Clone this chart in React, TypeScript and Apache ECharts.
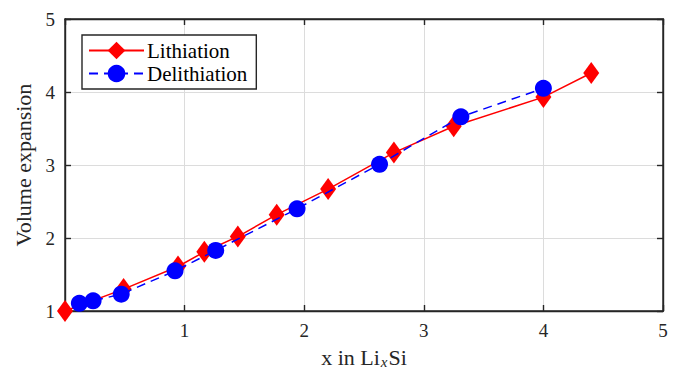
import React, { useEffect, useRef } from "react";
import * as echarts from "echarts";

// Volume expansion of Li_xSi during lithiation and delithiation
const lithX = [0, 0.49, 0.945, 1.165, 1.445, 1.77, 2.2, 2.75, 3.25, 4.0, 4.4];
const lithY = [1.0, 1.3, 1.61, 1.81, 2.02, 2.32, 2.67, 3.17, 3.53, 3.93, 4.26];
const delithX = [0.12, 0.235, 0.47, 0.92, 1.26, 1.94, 2.63, 3.31, 4.0];
const delithY = [1.105, 1.14, 1.23, 1.55, 1.83, 2.4, 3.01, 3.66, 4.05];
const seriesNames = ["Lithiation", "Delithiation"];

const FONT = "'Liberation Serif', 'DejaVu Serif', serif";
const AXIS_COLOR = "#262626";
const TEXT_COLOR = "#262626";

const pairs = (xs: number[], ys: number[]) => xs.map((x, i) => [x, ys[i]]);

export default function App() {
  const ref = useRef<HTMLDivElement>(null);

  useEffect(() => {
    if (!ref.current) return;
    document.body.style.margin = "0";
    const chart = echarts.init(ref.current, null, { renderer: "svg" });
    const axisCommon = {
      type: "value" as const,
      axisLine: { show: true, onZero: false, lineStyle: { color: AXIS_COLOR, width: 1.4 } },
      axisTick: { show: true, inside: true, length: 6, lineStyle: { color: AXIS_COLOR, width: 1.4 } },
    };
    chart.setOption({
      animation: false,
      backgroundColor: "#ffffff",
      textStyle: { fontFamily: FONT },
      grid: {
        left: 65,
        right: 17,
        top: 19,
        bottom: 64,
        show: true,
        borderColor: AXIS_COLOR,
        borderWidth: 1.4,
        backgroundColor: "transparent",
      },
      legend: {
        data: seriesNames,
        orient: "vertical",
        left: 82,
        top: 35,
        padding: [5, 9, 5, 6],
        itemGap: 2,
        itemWidth: 55,
        itemHeight: 22,
        backgroundColor: "#ffffff",
        borderColor: AXIS_COLOR,
        borderWidth: 1.4,
        borderRadius: 0,
        textStyle: { fontFamily: FONT, fontSize: 21, color: "#000", padding: [0, 0, 0, -2] },
      },
      xAxis: [
        {
          ...axisCommon,
          min: 0,
          max: 5,
          interval: 1,
          position: "bottom",
          name: "x in Li{sub|x}Si",
          nameLocation: "middle",
          nameGap: 34,
          nameTextStyle: {
            fontFamily: FONT,
            fontSize: 22,
            color: TEXT_COLOR,
            rich: {
              sub: {
                fontFamily: FONT,
                fontStyle: "italic",
                fontSize: 15,
                verticalAlign: "bottom",
                padding: [9, 1, 0, 1],
                color: TEXT_COLOR,
              },
            },
          },
          axisLabel: {
            fontFamily: FONT,
            fontSize: 19,
            color: TEXT_COLOR,
            margin: 10,
            showMinLabel: false,
          },
          splitLine: { show: true, lineStyle: { color: "#dcdcdc", width: 1 } },
        },
        {
          ...axisCommon,
          min: 0,
          max: 5,
          interval: 1,
          position: "top",
          axisLabel: { show: false },
          splitLine: { show: false },
        },
      ],
      yAxis: [
        {
          ...axisCommon,
          min: 1,
          max: 5,
          interval: 1,
          position: "left",
          name: "Volume expansion",
          nameLocation: "middle",
          nameGap: 30,
          nameTextStyle: { fontFamily: FONT, fontSize: 22, color: TEXT_COLOR },
          axisLabel: { fontFamily: FONT, fontSize: 19, color: TEXT_COLOR, margin: 10 },
          splitLine: { show: true, lineStyle: { color: "#dcdcdc", width: 1 } },
        },
        {
          ...axisCommon,
          min: 1,
          max: 5,
          interval: 1,
          position: "right",
          axisLabel: { show: false },
          splitLine: { show: false },
        },
      ],
      series: [
        {
          name: seriesNames[0],
          type: "line",
          data: pairs(lithX, lithY),
          symbol: "diamond",
          symbolSize: [16, 22],
          itemStyle: { color: "#ff0000" },
          lineStyle: { color: "#ff0000", width: 1.5, type: "solid" },
          z: 3,
        },
        {
          name: seriesNames[1],
          type: "line",
          data: pairs(delithX, delithY),
          symbol: "circle",
          symbolSize: 17,
          itemStyle: { color: "#0000ff" },
          lineStyle: { color: "#0000ff", width: 1.5, type: [9, 6] },
          z: 4,
        },
      ],
    });
    return () => chart.dispose();
  }, []);

  return <div ref={ref} style={{ width: 680, height: 375 }} />;
}
